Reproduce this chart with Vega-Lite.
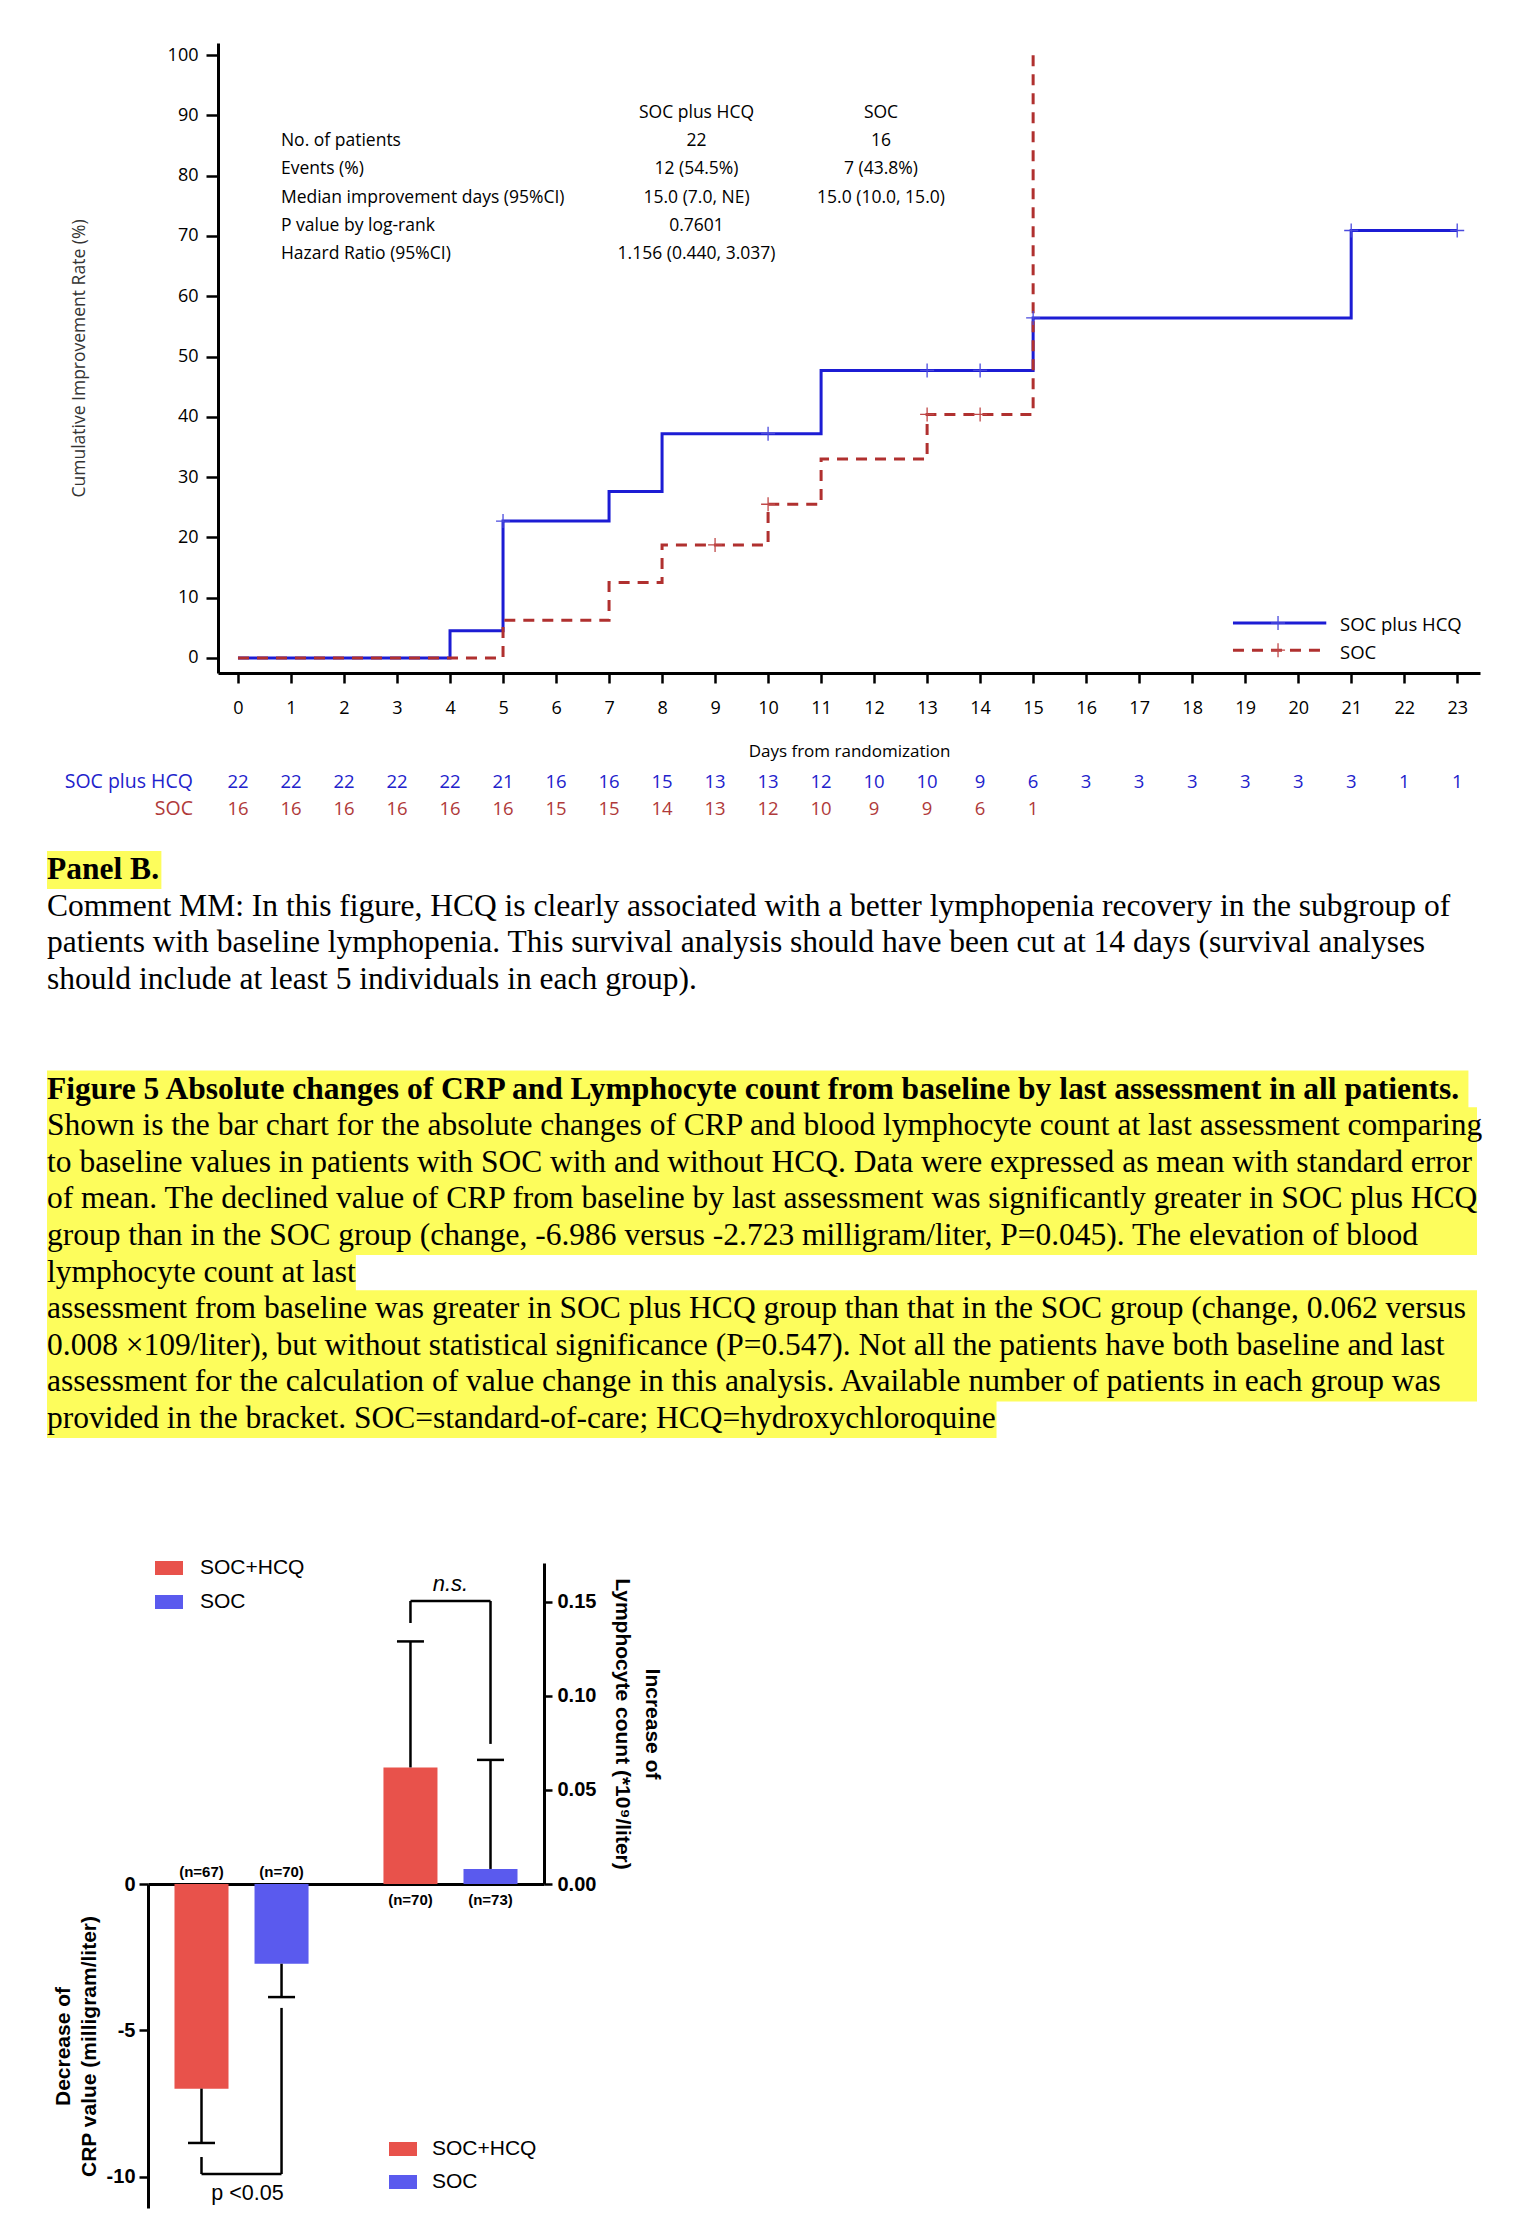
{
  "$schema": "https://vega.github.io/schema/vega-lite/v6.json",
  "width": 1524,
  "height": 2240,
  "autosize": {"type": "none"},
  "padding": 0,
  "background": "white",
  "config": {
    "view": {"stroke": null},
    "axis": {"grid": false, "domainColor": "black", "tickColor": "black", "labelColor": "black", "titleColor": "black"}
  },
  "datasets": {
    "km": [
      {"arm": "SOC plus HCQ", "day": 0, "rate": 0},
      {"arm": "SOC plus HCQ", "day": 4, "rate": 4.5},
      {"arm": "SOC plus HCQ", "day": 5, "rate": 22.7},
      {"arm": "SOC plus HCQ", "day": 7, "rate": 27.6},
      {"arm": "SOC plus HCQ", "day": 8, "rate": 37.2},
      {"arm": "SOC plus HCQ", "day": 11, "rate": 47.7},
      {"arm": "SOC plus HCQ", "day": 15, "rate": 56.4},
      {"arm": "SOC plus HCQ", "day": 21, "rate": 70.9},
      {"arm": "SOC plus HCQ", "day": 23, "rate": 70.9},
      {"arm": "SOC", "day": 0, "rate": 0},
      {"arm": "SOC", "day": 5, "rate": 6.25},
      {"arm": "SOC", "day": 7, "rate": 12.5},
      {"arm": "SOC", "day": 8, "rate": 18.75},
      {"arm": "SOC", "day": 10, "rate": 25.5},
      {"arm": "SOC", "day": 11, "rate": 33.0},
      {"arm": "SOC", "day": 13, "rate": 40.4},
      {"arm": "SOC", "day": 15, "rate": 100}
    ],
    "censor": [
      {"arm": "SOC plus HCQ", "day": 5, "rate": 22.7},
      {"arm": "SOC plus HCQ", "day": 10, "rate": 37.2},
      {"arm": "SOC plus HCQ", "day": 13, "rate": 47.7},
      {"arm": "SOC plus HCQ", "day": 14, "rate": 47.7},
      {"arm": "SOC plus HCQ", "day": 15, "rate": 56.4},
      {"arm": "SOC plus HCQ", "day": 21, "rate": 70.9},
      {"arm": "SOC plus HCQ", "day": 23, "rate": 70.9},
      {"arm": "SOC", "day": 9, "rate": 18.75},
      {"arm": "SOC", "day": 10, "rate": 25.5},
      {"arm": "SOC", "day": 13, "rate": 40.4},
      {"arm": "SOC", "day": 14, "rate": 40.4}
    ],
    "risk": [
      {"arm": "SOC plus HCQ", "day": 0, "n": 22}, {"arm": "SOC plus HCQ", "day": 1, "n": 22},
      {"arm": "SOC plus HCQ", "day": 2, "n": 22}, {"arm": "SOC plus HCQ", "day": 3, "n": 22},
      {"arm": "SOC plus HCQ", "day": 4, "n": 22}, {"arm": "SOC plus HCQ", "day": 5, "n": 21},
      {"arm": "SOC plus HCQ", "day": 6, "n": 16}, {"arm": "SOC plus HCQ", "day": 7, "n": 16},
      {"arm": "SOC plus HCQ", "day": 8, "n": 15}, {"arm": "SOC plus HCQ", "day": 9, "n": 13},
      {"arm": "SOC plus HCQ", "day": 10, "n": 13}, {"arm": "SOC plus HCQ", "day": 11, "n": 12},
      {"arm": "SOC plus HCQ", "day": 12, "n": 10}, {"arm": "SOC plus HCQ", "day": 13, "n": 10},
      {"arm": "SOC plus HCQ", "day": 14, "n": 9}, {"arm": "SOC plus HCQ", "day": 15, "n": 6},
      {"arm": "SOC plus HCQ", "day": 16, "n": 3}, {"arm": "SOC plus HCQ", "day": 17, "n": 3},
      {"arm": "SOC plus HCQ", "day": 18, "n": 3}, {"arm": "SOC plus HCQ", "day": 19, "n": 3},
      {"arm": "SOC plus HCQ", "day": 20, "n": 3}, {"arm": "SOC plus HCQ", "day": 21, "n": 3},
      {"arm": "SOC plus HCQ", "day": 22, "n": 1}, {"arm": "SOC plus HCQ", "day": 23, "n": 1},
      {"arm": "SOC", "day": 0, "n": 16}, {"arm": "SOC", "day": 1, "n": 16},
      {"arm": "SOC", "day": 2, "n": 16}, {"arm": "SOC", "day": 3, "n": 16},
      {"arm": "SOC", "day": 4, "n": 16}, {"arm": "SOC", "day": 5, "n": 16},
      {"arm": "SOC", "day": 6, "n": 15}, {"arm": "SOC", "day": 7, "n": 15},
      {"arm": "SOC", "day": 8, "n": 14}, {"arm": "SOC", "day": 9, "n": 13},
      {"arm": "SOC", "day": 10, "n": 12}, {"arm": "SOC", "day": 11, "n": 10},
      {"arm": "SOC", "day": 12, "n": 9}, {"arm": "SOC", "day": 13, "n": 9},
      {"arm": "SOC", "day": 14, "n": 6}, {"arm": "SOC", "day": 15, "n": 1}
    ],
    "kmtable": [
      {"row": 0, "label": "", "hcq": "SOC plus HCQ", "soc": "SOC"},
      {"row": 1, "label": "No. of patients", "hcq": "22", "soc": "16"},
      {"row": 2, "label": "Events (%)", "hcq": "12 (54.5%)", "soc": "7 (43.8%)"},
      {"row": 3, "label": "Median improvement days (95%CI)", "hcq": "15.0 (7.0, NE)", "soc": "15.0 (10.0, 15.0)"},
      {"row": 4, "label": "P value by log-rank", "hcq": "0.7601", "soc": ""},
      {"row": 5, "label": "Hazard Ratio (95%CI)", "hcq": "1.156 (0.440, 3.037)", "soc": ""}
    ],
    "lines": [
      {"line": 0, "bold": true, "hl": 0.08, "text": "Panel B."},
      {"line": 1, "bold": false, "hl": 0, "text": "Comment MM: In this figure, HCQ is clearly associated with a better lymphopenia recovery in the subgroup of"},
      {"line": 2, "bold": false, "hl": 0, "text": "patients with baseline lymphopenia. This survival analysis should have been cut at 14 days (survival analyses"},
      {"line": 3, "bold": false, "hl": 0, "text": "should include at least 5 individuals in each group)."},
      {"line": 6, "bold": true, "hl": 0.994, "text": "Figure 5 Absolute changes of CRP and Lymphocyte count from baseline by last assessment in all patients."},
      {"line": 7, "bold": false, "hl": 1, "text": "Shown is the bar chart for the absolute changes of CRP and blood lymphocyte count at last assessment comparing"},
      {"line": 8, "bold": false, "hl": 1, "text": "to baseline values in patients with SOC with and without HCQ. Data were expressed as mean with standard error"},
      {"line": 9, "bold": false, "hl": 1, "text": "of mean. The declined value of CRP from baseline by last assessment was significantly greater in SOC plus HCQ"},
      {"line": 10, "bold": false, "hl": 1, "text": "group than in the SOC group (change, -6.986 versus -2.723 milligram/liter, P=0.045). The elevation of blood"},
      {"line": 11, "bold": false, "hl": 0.216, "text": "lymphocyte count at last"},
      {"line": 12, "bold": false, "hl": 1, "text": "assessment from baseline was greater in SOC plus HCQ group than that in the SOC group (change, 0.062 versus"},
      {"line": 13, "bold": false, "hl": 1, "text": "0.008 ×109/liter), but without statistical significance (P=0.547). Not all the patients have both baseline and last"},
      {"line": 14, "bold": false, "hl": 1, "text": "assessment for the calculation of value change in this analysis. Available number of patients in each group was"},
      {"line": 15, "bold": false, "hl": 0.664, "text": "provided in the bracket. SOC=standard-of-care; HCQ=hydroxychloroquine"}
    ],
    "bars": [
      {"measure": "CRP", "group": "SOC+HCQ", "value": -6.986, "cap": -8.84, "n": "(n=67)"},
      {"measure": "CRP", "group": "SOC", "value": -2.723, "cap": -3.86, "n": "(n=70)"},
      {"measure": "Lymphocyte", "group": "SOC+HCQ", "value": 0.062, "cap": 0.129, "n": "(n=70)"},
      {"measure": "Lymphocyte", "group": "SOC", "value": 0.008, "cap": 0.066, "n": "(n=73)"}
    ],
    "legs": [
      {"measure": "CRP", "group": "SOC+HCQ", "top": -9.32, "bot": -9.9},
      {"measure": "CRP", "group": "SOC", "top": -4.23, "bot": -9.9},
      {"measure": "Lymphocyte", "group": "SOC+HCQ", "top": 0.1388, "bot": 0.1505},
      {"measure": "Lymphocyte", "group": "SOC", "top": 0.0745, "bot": 0.1505}
    ],
    "brackets": [
      {"measure": "CRP", "y": -9.9, "label": "p <0.05"},
      {"measure": "Lymphocyte", "y": 0.1505, "label": "n.s."}
    ]
  },
  "layer": [
    {
      "data": {"name": "km"},
      "layer": [
        {
          "transform": [{"filter": "datum.arm == 'SOC plus HCQ'"}],
          "mark": {"type": "line", "interpolate": "step-after", "color": "#1c1cd4", "strokeWidth": 3},
          "encoding": {
            "x": {"field": "day", "type": "quantitative",
              "scale": {"domain": [-0.377, 23.43], "range": [218, 1480], "nice": false, "zero": false},
              "axis": {"orient": "bottom", "offset": -1567, "values": [0,1,2,3,4,5,6,7,8,9,10,11,12,13,14,15,16,17,18,19,20,21,22,23], "format": "d",
                "tickSize": 10, "tickWidth": 2.5, "domainWidth": 3, "labelFont": "Open Sans", "labelFontSize": 18, "labelPadding": 16,
                "labelFlush": false, "labelOverlap": false,
                "title": "Days from randomization", "titleFont": "Open Sans", "titleFontSize": 17, "titleFontWeight": "normal", "titlePadding": 26}},
            "y": {"field": "rate", "type": "quantitative",
              "scale": {"domain": [-2.49, 102.0], "range": [673, 43], "nice": false, "zero": false},
              "axis": {"orient": "left", "offset": -218, "values": [0,10,20,30,40,50,60,70,80,90,100], "format": "d",
                "tickSize": 12, "tickWidth": 2.5, "domainWidth": 3, "labelFont": "Open Sans", "labelFontSize": 18, "labelPadding": 8,
                "labelFlush": false, "labelOverlap": false,
                "title": "Cumulative Improvement Rate (%)", "titleFont": "Open Sans", "titleFontSize": 17.5, "titleFontWeight": "normal", "titleColor": "#333333", "titlePadding": 79}}
          }
        },
        {
          "transform": [{"filter": "datum.arm == 'SOC'"}],
          "mark": {"type": "line", "interpolate": "step-after", "color": "#b0302f", "strokeWidth": 3, "strokeDash": [11, 8]},
          "encoding": {"x": {"field": "day", "type": "quantitative"}, "y": {"field": "rate", "type": "quantitative"}}
        },
        {
          "data": {"name": "censor"},
          "transform": [{"filter": "datum.arm == 'SOC plus HCQ'"}],
          "mark": {"type": "point", "shape": "M-1,0L1,0M0,-1L0,1", "filled": false, "size": 196, "strokeWidth": 1.3, "color": "#4a4ade", "opacity": 1},
          "encoding": {"x": {"field": "day", "type": "quantitative"}, "y": {"field": "rate", "type": "quantitative"}}
        },
        {
          "data": {"name": "censor"},
          "transform": [{"filter": "datum.arm == 'SOC'"}],
          "mark": {"type": "point", "shape": "M-1,0L1,0M0,-1L0,1", "filled": false, "size": 196, "strokeWidth": 1.3, "color": "#c04848", "opacity": 1},
          "encoding": {"x": {"field": "day", "type": "quantitative"}, "y": {"field": "rate", "type": "quantitative"}}
        },
        {
          "data": {"values": [{"label": "SOC plus HCQ"}]},
          "mark": {"type": "rule", "color": "#1c1cd4", "strokeWidth": 3},
          "encoding": {"x": {"datum": 18.77}, "x2": {"datum": 20.53}, "y": {"datum": 5.8}}
        },
        {
          "data": {"values": [{"label": "SOC"}]},
          "mark": {"type": "rule", "color": "#b0302f", "strokeWidth": 3, "strokeDash": [11, 8]},
          "encoding": {"x": {"datum": 18.77}, "x2": {"datum": 20.53}, "y": {"datum": 1.3}}
        },
        {
          "data": {"values": [{"label": "SOC plus HCQ"}]},
          "mark": {"type": "point", "shape": "M-1,0L1,0M0,-1L0,1", "filled": false, "size": 196, "strokeWidth": 1.3, "color": "#4a4ade", "opacity": 1},
          "encoding": {"x": {"datum": 19.62}, "y": {"datum": 5.8}}
        },
        {
          "data": {"values": [{"label": "SOC"}]},
          "mark": {"type": "point", "shape": "M-1,0L1,0M0,-1L0,1", "filled": false, "size": 196, "strokeWidth": 1.3, "color": "#c04848", "opacity": 1},
          "encoding": {"x": {"datum": 19.62}, "y": {"datum": 1.3}}
        },
        {
          "data": {"values": [{"label": "SOC plus HCQ"}]},
          "mark": {"type": "text", "align": "left", "baseline": "middle", "font": "Open Sans", "fontSize": 18.5, "color": "black"},
          "encoding": {"x": {"datum": 20.79}, "y": {"datum": 5.4}, "text": {"field": "label"}}
        },
        {
          "data": {"values": [{"label": "SOC"}]},
          "mark": {"type": "text", "align": "left", "baseline": "middle", "font": "Open Sans", "fontSize": 18.5, "color": "black"},
          "encoding": {"x": {"datum": 20.79}, "y": {"datum": 0.9}, "text": {"field": "label"}}
        }
      ]
    },
    {
      "data": {"name": "kmtable"},
      "encoding": {
        "y": {"field": "row", "type": "ordinal", "scale": {"type": "point", "domain": [0,1,2,3,4,5], "range": [113, 254], "padding": 0}, "axis": null}
      },
      "layer": [
        {
          "mark": {"type": "text", "align": "left", "baseline": "middle", "font": "Open Sans", "fontSize": 17.5, "color": "black"},
          "encoding": {"x": {"datum": 0.81, "type": "quantitative", "scale": {"domain": [-0.377, 23.43], "range": [218, 1480], "nice": false, "zero": false}, "axis": null}, "text": {"field": "label"}}
        },
        {
          "mark": {"type": "text", "align": "center", "baseline": "middle", "font": "Open Sans", "fontSize": 17.5, "color": "black"},
          "encoding": {"x": {"datum": 8.65, "type": "quantitative"}, "text": {"field": "hcq"}}
        },
        {
          "mark": {"type": "text", "align": "center", "baseline": "middle", "font": "Open Sans", "fontSize": 17.5, "color": "black"},
          "encoding": {"x": {"datum": 12.13, "type": "quantitative"}, "text": {"field": "soc"}}
        }
      ]
    },
    {
      "data": {"name": "risk"},
      "layer": [
        {
          "mark": {"type": "text", "align": "center", "baseline": "middle", "font": "Open Sans", "fontSize": 18.5},
          "encoding": {
            "x": {"field": "day", "type": "quantitative", "scale": {"domain": [-0.377, 23.43], "range": [218, 1480], "nice": false, "zero": false}, "axis": null},
            "y": {"field": "arm", "type": "nominal", "scale": {"type": "point", "domain": ["SOC plus HCQ", "SOC"], "range": [782, 809], "padding": 0}, "axis": null},
            "text": {"field": "n"},
            "color": {"field": "arm", "type": "nominal", "scale": {"domain": ["SOC plus HCQ", "SOC"], "range": ["#2222cc", "#b03a3a"]}, "legend": null}
          }
        },
        {
          "data": {"values": [{"arm": "SOC plus HCQ"}, {"arm": "SOC"}]},
          "mark": {"type": "text", "align": "right", "baseline": "middle", "font": "Open Sans", "fontSize": 19.5},
          "encoding": {
            "x": {"datum": -0.85, "type": "quantitative"},
            "y": {"field": "arm", "type": "nominal"},
            "text": {"field": "arm"},
            "color": {"field": "arm", "type": "nominal"}
          }
        }
      ]
    },
    {
      "data": {"name": "lines"},
      "layer": [
        {
          "transform": [{"filter": "datum.hl > 0"}],
          "mark": {"type": "bar", "orient": "horizontal", "height": 38, "color": "#fdfd5c"},
          "encoding": {
            "x": {"field": "hl", "type": "quantitative", "scale": {"domain": [0, 1], "range": [47, 1477], "nice": false, "zero": true}, "axis": null},
            "y": {"field": "line", "type": "quantitative", "scale": {"domain": [0, 15], "range": [865, 1424], "nice": false, "zero": false}, "axis": null}
          }
        },
        {
          "transform": [{"filter": "datum.bold"}],
          "mark": {"type": "text", "align": "left", "baseline": "middle", "font": "Liberation Serif", "fontSize": 31.5, "fontWeight": "bold", "color": "black"},
          "encoding": {"x": {"datum": 0, "type": "quantitative"}, "y": {"field": "line", "type": "quantitative"}, "text": {"field": "text"}}
        },
        {
          "transform": [{"filter": "!datum.bold"}],
          "mark": {"type": "text", "align": "left", "baseline": "middle", "font": "Liberation Serif", "fontSize": 31.5, "color": "black"},
          "encoding": {"x": {"datum": 0, "type": "quantitative"}, "y": {"field": "line", "type": "quantitative"}, "text": {"field": "text"}}
        }
      ]
    },
    {
      "data": {"name": "bars"},
      "transform": [{"filter": "datum.measure == 'CRP'"}],
      "layer": [
        {
          "mark": {"type": "bar"},
          "encoding": {
            "x": {"field": "measure", "type": "nominal",
              "scale": {"type": "band", "domain": ["CRP", "Lymphocyte"], "range": [148, 544], "paddingInner": 0.234, "paddingOuter": 0.0645},
              "axis": {"orient": "bottom", "offset": -356, "domain": true, "domainWidth": 3, "ticks": false, "labels": false, "title": null}},
            "xOffset": {"field": "group", "type": "nominal", "scale": {"domain": ["SOC+HCQ", "SOC"], "paddingInner": 0.325, "paddingOuter": 0.1625}},
            "y": {"field": "value", "type": "quantitative",
              "scale": {"domain": [-11.06, 0], "range": [2208, 1884], "nice": false, "zero": false},
              "axis": {"orient": "left", "offset": -148, "values": [0, -5, -10], "labelExpr": "toString(datum.value)", "tickSize": 9, "tickWidth": 2.5, "domainWidth": 3,
                "labelFont": "Liberation Sans", "labelFontWeight": "bold", "labelFontSize": 20, "labelPadding": 4, "labelFlush": false,
                "title": ["Decrease of", "CRP value (milligram/liter)"], "titleFont": "Liberation Sans", "titleFontSize": 21, "titleFontWeight": "bold",
                "titlePadding": 7, "titleLineHeight": 26}},
            "color": {"field": "group", "type": "nominal",
              "scale": {"domain": ["SOC+HCQ", "SOC"], "range": ["#e8524b", "#5a5aee"]},
              "legend": {"orient": "none", "legendX": 389, "legendY": 2135, "title": null, "symbolType": "M-1,-0.5L1,-0.5L1,0.5L-1,0.5Z",
                "symbolSize": 784, "symbolStrokeWidth": 0, "labelFont": "Liberation Sans", "labelFontSize": 21, "labelOffset": 15, "rowPadding": 9, "labelColor": "black", "padding": 0}}
          }
        },
        {
          "mark": {"type": "rule", "color": "black", "strokeWidth": 2.5},
          "encoding": {
            "x": {"field": "measure", "type": "nominal"},
            "xOffset": {"field": "group", "type": "nominal"},
            "y": {"field": "value", "type": "quantitative"},
            "y2": {"field": "cap"}
          }
        },
        {
          "mark": {"type": "tick", "color": "black", "thickness": 2.5, "size": 27, "opacity": 1},
          "encoding": {
            "x": {"field": "measure", "type": "nominal"},
            "xOffset": {"field": "group", "type": "nominal"},
            "y": {"field": "cap", "type": "quantitative"}
          }
        },
        {
          "mark": {"type": "text", "baseline": "bottom", "dy": -4, "font": "Liberation Sans", "fontWeight": "bold", "fontSize": 15, "color": "black"},
          "encoding": {
            "x": {"field": "measure", "type": "nominal"},
            "xOffset": {"field": "group", "type": "nominal"},
            "y": {"datum": 0, "type": "quantitative"},
            "text": {"field": "n"}
          }
        },
        {
          "data": {"name": "legs"},
          "transform": [{"filter": "datum.measure == 'CRP'"}],
          "mark": {"type": "rule", "color": "black", "strokeWidth": 2.5},
          "encoding": {
            "x": {"field": "measure", "type": "nominal"},
            "xOffset": {"field": "group", "type": "nominal"},
            "y": {"field": "top", "type": "quantitative"},
            "y2": {"field": "bot"}
          }
        },
        {
          "data": {"name": "brackets"},
          "transform": [{"filter": "datum.measure == 'CRP'"}],
          "mark": {"type": "tick", "color": "black", "thickness": 2.5, "size": 80, "opacity": 1},
          "encoding": {"x": {"field": "measure", "type": "nominal"}, "y": {"field": "y", "type": "quantitative"}}
        },
        {
          "data": {"name": "brackets"},
          "transform": [{"filter": "datum.measure == 'CRP'"}],
          "mark": {"type": "text", "baseline": "top", "dy": 9, "dx": 6, "font": "Liberation Sans", "fontSize": 21.5, "color": "black"},
          "encoding": {"x": {"field": "measure", "type": "nominal"}, "y": {"field": "y", "type": "quantitative"}, "text": {"field": "label"}}
        }
      ]
    },
    {
      "data": {"name": "bars"},
      "transform": [{"filter": "datum.measure == 'Lymphocyte'"}],
      "layer": [
        {
          "mark": {"type": "bar"},
          "encoding": {
            "x": {"field": "measure", "type": "nominal",
              "scale": {"type": "band", "domain": ["CRP", "Lymphocyte"], "range": [148, 544], "paddingInner": 0.234, "paddingOuter": 0.0645},
              "axis": null},
            "xOffset": {"field": "group", "type": "nominal", "scale": {"domain": ["SOC+HCQ", "SOC"], "paddingInner": 0.325, "paddingOuter": 0.1625}},
            "y": {"field": "value", "type": "quantitative",
              "scale": {"domain": [0, 0.1707], "range": [1884, 1563], "nice": false, "zero": false},
              "axis": {"orient": "right", "offset": -980, "values": [0, 0.05, 0.1, 0.15], "format": ".2f", "tickSize": 8, "tickWidth": 2.5, "domainWidth": 3,
                "labelFont": "Liberation Sans", "labelFontWeight": "bold", "labelFontSize": 20, "labelPadding": 5, "labelFlush": false,
                "title": ["Increase of", "Lymphocyte count  (*10⁹/liter)"], "titleFont": "Liberation Sans", "titleFontSize": 21, "titleFontWeight": "bold",
                "titleAngle": 90, "titlePadding": 16, "titleLineHeight": 30}},
            "color": {"field": "group", "type": "nominal",
              "scale": {"domain": ["SOC+HCQ", "SOC"], "range": ["#e8524b", "#5a5aee"]},
              "legend": {"orient": "none", "legendX": 155, "legendY": 1554, "title": null, "symbolType": "M-1,-0.5L1,-0.5L1,0.5L-1,0.5Z",
                "symbolSize": 784, "symbolStrokeWidth": 0, "labelFont": "Liberation Sans", "labelFontSize": 21, "labelOffset": 17, "rowPadding": 10, "labelColor": "black", "padding": 0}}
          }
        },
        {
          "mark": {"type": "rule", "color": "black", "strokeWidth": 2.5},
          "encoding": {
            "x": {"field": "measure", "type": "nominal"},
            "xOffset": {"field": "group", "type": "nominal"},
            "y": {"field": "value", "type": "quantitative"},
            "y2": {"field": "cap"}
          }
        },
        {
          "mark": {"type": "tick", "color": "black", "thickness": 2.5, "size": 27, "opacity": 1},
          "encoding": {
            "x": {"field": "measure", "type": "nominal"},
            "xOffset": {"field": "group", "type": "nominal"},
            "y": {"field": "cap", "type": "quantitative"}
          }
        },
        {
          "mark": {"type": "text", "baseline": "top", "dy": 9, "font": "Liberation Sans", "fontWeight": "bold", "fontSize": 15, "color": "black"},
          "encoding": {
            "x": {"field": "measure", "type": "nominal"},
            "xOffset": {"field": "group", "type": "nominal"},
            "y": {"datum": 0, "type": "quantitative"},
            "text": {"field": "n"}
          }
        },
        {
          "data": {"name": "legs"},
          "transform": [{"filter": "datum.measure == 'Lymphocyte'"}],
          "mark": {"type": "rule", "color": "black", "strokeWidth": 2.5},
          "encoding": {
            "x": {"field": "measure", "type": "nominal"},
            "xOffset": {"field": "group", "type": "nominal"},
            "y": {"field": "top", "type": "quantitative"},
            "y2": {"field": "bot"}
          }
        },
        {
          "data": {"name": "brackets"},
          "transform": [{"filter": "datum.measure == 'Lymphocyte'"}],
          "mark": {"type": "tick", "color": "black", "thickness": 2.5, "size": 80, "opacity": 1},
          "encoding": {"x": {"field": "measure", "type": "nominal"}, "y": {"field": "y", "type": "quantitative"}}
        },
        {
          "data": {"name": "brackets"},
          "transform": [{"filter": "datum.measure == 'Lymphocyte'"}],
          "mark": {"type": "text", "baseline": "bottom", "dy": -5, "font": "Liberation Sans", "fontStyle": "italic", "fontSize": 22, "color": "black"},
          "encoding": {"x": {"field": "measure", "type": "nominal"}, "y": {"field": "y", "type": "quantitative"}, "text": {"field": "label"}}
        }
      ]
    }
  ],
  "resolve": {
    "scale": {"x": "independent", "y": "independent", "xOffset": "independent", "color": "independent"},
    "axis": {"x": "independent", "y": "independent"},
    "legend": {"color": "independent"}
  }
}
